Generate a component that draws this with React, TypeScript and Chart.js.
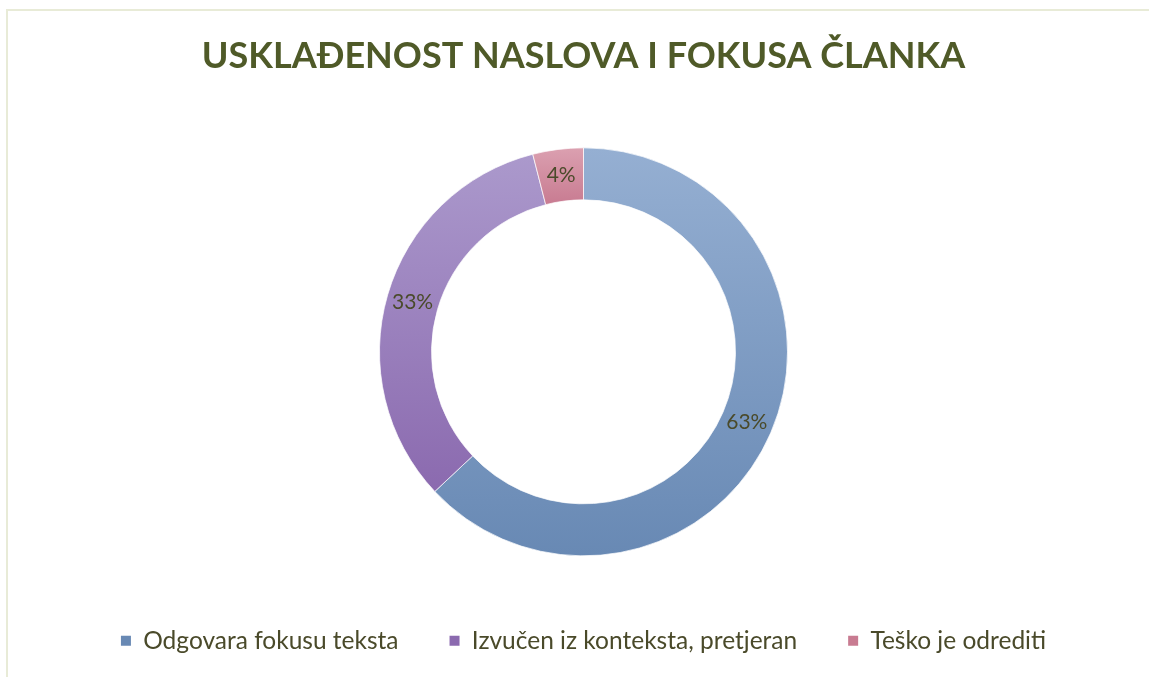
import React, { useEffect, useRef } from "react";
import { Chart, registerables } from "chart.js";

Chart.register(...registerables);

const titleText = "USKLAĐENOST NASLOVA I FOKUSA ČLANKA";
const categories = ["Odgovara fokusu teksta", "Izvučen iz konteksta, pretjeran", "Teško je odrediti"];
const values = [63, 33, 4];
const topColors = ["#95afd2", "#ab99cc", "#dba0b0"];
const bottomColors = ["#6889b4", "#8b6aaf", "#c87b91"];

const OUTER_R = 204;
const INNER_R = 152;
const TEXT_COLOR = "#4a4a2a";
const TITLE_COLOR = "#4f5a28";
const FONT = "Lato";

function sliceGradient(ctx: any) {
  const chart = ctx.chart;
  const i = ctx.dataIndex;
  const area = chart.chartArea;
  if (!area || i === undefined) return topColors[i ?? 0];
  const cx = (area.left + area.right) / 2;
  const cy = (area.top + area.bottom) / 2;
  const total = values.reduce((a, b) => a + b, 0);
  let cum = 0;
  for (let k = 0; k < i; k++) cum += values[k];
  const a0 = -Math.PI / 2 + (cum / total) * Math.PI * 2;
  const a1 = -Math.PI / 2 + ((cum + values[i]) / total) * Math.PI * 2;
  let minY = Infinity;
  let maxY = -Infinity;
  const steps = 60;
  for (let s = 0; s <= steps; s++) {
    const a = a0 + ((a1 - a0) * s) / steps;
    for (const r of [OUTER_R, INNER_R]) {
      const y = cy + Math.sin(a) * r;
      if (y < minY) minY = y;
      if (y > maxY) maxY = y;
    }
  }
  void cx;
  const g = chart.ctx.createLinearGradient(0, minY, 0, maxY);
  g.addColorStop(0, topColors[i]);
  g.addColorStop(1, bottomColors[i]);
  return g;
}

const percentLabels = {
  id: "percentLabels",
  afterDatasetsDraw(chart: any) {
    const meta = chart.getDatasetMeta(0);
    const total = values.reduce((a, b) => a + b, 0);
    const c = chart.ctx;
    c.save();
    c.font = `21px ${FONT}`;
    c.fillStyle = TEXT_COLOR;
    c.textAlign = "center";
    c.textBaseline = "middle";
    meta.data.forEach((arc: any, i: number) => {
      const p = arc.getCenterPoint();
      c.fillText(`${Math.round((values[i] / total) * 100)}%`, p.x, p.y);
    });
    c.restore();
  },
};

export default function App() {
  const ref = useRef<HTMLCanvasElement | null>(null);
  useEffect(() => {
    if (!ref.current) return;
    const chart = new Chart(ref.current, {
      type: "doughnut",
      data: {
        labels: categories,
        datasets: [
          {
            data: values,
            backgroundColor: sliceGradient as any,
            borderColor: "rgba(255,255,255,0.7)",
            borderWidth: 1,
            radius: OUTER_R,
          } as any,
        ],
      },
      options: {
        responsive: false,
        animation: false,
        devicePixelRatio: 1,
        cutout: `${(INNER_R / OUTER_R) * 100}%`,
        layout: { padding: { top: 0, bottom: 14, left: 18, right: 0 } },
        plugins: {
          tooltip: { enabled: false },
          title: {
            display: true,
            text: titleText,
            color: TITLE_COLOR,
            font: { family: FONT, size: 36, weight: "bold", lineHeight: 1.2 },
            padding: { top: 35, bottom: 48 },
          },
          legend: {
            display: true,
            position: "bottom",
            labels: {
              boxWidth: 10,
              boxHeight: 10,
              padding: 51,
              color: TEXT_COLOR,
              font: { family: FONT, size: 24.5 },
              generateLabels: () =>
                categories.map((t, i) => ({
                  text: t,
                  fillStyle: bottomColors[i],
                  strokeStyle: bottomColors[i],
                  lineWidth: 0,
                  hidden: false,
                  index: i,
                  fontColor: TEXT_COLOR,
                })),
            },
          },
        },
      } as any,
      plugins: [percentLabels],
    });
    return () => chart.destroy();
  }, []);

  return (
    <div style={{ position: "fixed", left: 0, top: 0, width: 1149, height: 677, background: "#fff", overflow: "hidden" }}>
      <div
        style={{
          position: "absolute",
          left: 6,
          top: 9,
          width: 1143,
          height: 668,
          borderTop: "2px solid #e8ebd7",
          borderLeft: "2px solid #e8ebd7",
          boxSizing: "border-box",
        }}
      />
      <canvas ref={ref} width={1149} height={677} style={{ position: "absolute", left: 0, top: 0 }} />
    </div>
  );
}
